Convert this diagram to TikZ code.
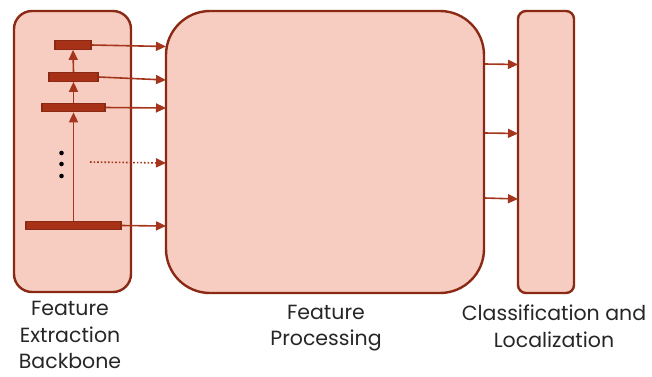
\documentclass[tikz,border=0pt]{standalone}
\usepackage{fontspec}
\setmainfont{Poppins}
\usetikzlibrary{arrows.meta}
\definecolor{boxfill}{HTML}{F8CDC1}
\definecolor{boxline}{HTML}{8A2A14}
\definecolor{barfill}{HTML}{A83218}
\definecolor{arrcol}{HTML}{A5351C}
\begin{document}
\begin{tikzpicture}[x=1pt,y=-1pt,
  blockbox/.style={draw=boxline,fill=boxfill,line width=2.4pt},
  featbar/.style={draw=boxline,fill=barfill,line width=1.2pt,inner sep=0pt,minimum height=8.5pt},
  flow/.style={draw=arrcol,line width=1.6pt,-{Triangle[length=10pt,width=9pt]}},
  lbl/.style={font=\fontsize{20.5}{26.5}\selectfont,align=center,anchor=north,text=black!85,inner sep=2pt}]
\useasboundingbox (0,0) rectangle (652,376);
% blocks
\draw[blockbox,rounded corners=18pt] (14,11) rectangle (131,292);
\draw[blockbox,rounded corners=44pt] (166,11) rectangle (484,293);
\draw[blockbox,rounded corners=8pt] (518,11) rectangle (574,293);
% bars
\node[featbar,minimum width=36pt] (b1) at (73,45) {};
\node[featbar,minimum width=49pt] (b2) at (73.5,77) {};
\node[featbar,minimum width=63pt] (b3) at (73.5,107.5) {};
\node[featbar,minimum width=95pt] (b4) at (73.5,225.5) {};
% vertical arrows
\draw[flow] (b4.north) -- (b3.south);
\draw[flow] (b3.north) -- (b2.south);
\draw[flow] (b2.north) -- (b1.south);
% horizontal arrows
\coordinate (t1) at (166,46.5);
\coordinate (t2) at (166,80);
\coordinate (t3) at (166,108);
\coordinate (t4) at (166,226);
\coordinate (ds) at (90,162);
\coordinate (dt) at (166,163);
\draw[flow] (b1.east) -- (t1);
\draw[flow] (b2.east) -- (t2);
\draw[flow] (b3.east) -- (t3);
\draw[flow] (b4.east) -- (t4);
\draw[flow,dotted] (ds) -- (dt);
% dots
\foreach \yy/\nm in {153/d1,164/d2,176/d3}
  \fill (61.5,\yy) circle (2.3pt) coordinate (\nm);
% right arrows
\coordinate (r1s) at (485,64); \coordinate (r1t) at (518,64.5);
\coordinate (r2s) at (485,133); \coordinate (r2t) at (518,133.5);
\coordinate (r3s) at (485,198); \coordinate (r3t) at (518,199);
\draw[flow] (r1s) -- (r1t);
\draw[flow] (r2s) -- (r2t);
\draw[flow] (r3s) -- (r3t);
% labels
\node[lbl] (l1) at (70,299) {Feature\\Extraction\\Backbone};
\node[lbl] (l2) at (326,303) {Feature\\Processing};
\node[lbl] (l3) at (554,303) {Classification and\\Localization};
\end{tikzpicture}
\end{document}
